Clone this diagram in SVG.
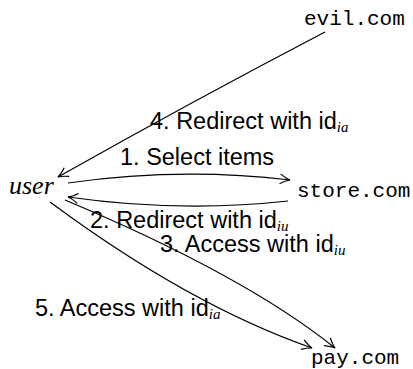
<svg xmlns="http://www.w3.org/2000/svg" width="413" height="369" viewBox="0 0 413 369">
  <style>
    .node { font-family: "Liberation Mono", "DejaVu Sans Mono", monospace; font-size: 21px; fill: #000; }
    .user { font-family: "Liberation Serif", "DejaVu Serif", serif; font-style: italic; font-size: 26px; fill: #000; }
    .lbl { font-family: "Liberation Sans", "DejaVu Sans", sans-serif; font-size: 23.5px; fill: #000; }
    .sub { font-family: "Liberation Serif", "DejaVu Serif", serif; font-style: italic; font-size: 15px; }
    .edge { fill: none; stroke: #000; stroke-width: 1.2; marker-end: url(#to); }
  </style>
  <defs>
    <marker id="to" markerUnits="userSpaceOnUse" viewBox="-12 -7 14 14" refX="0" refY="0" markerWidth="14" markerHeight="14" orient="auto">
      <path d="M-10,-5 Q-4,-1 0,0 Q-4,1 -10,5" fill="none" stroke="#000" stroke-width="1.2"/>
    </marker>
  </defs>

  <!-- nodes -->
  <g id="user"><text class="user" x="9" y="194">user</text></g>
  <g id="store"><text class="node" x="297" y="197">store.com</text></g>
  <g id="evil"><text class="node" x="304" y="25">evil.com</text></g>
  <g id="pay"><text class="node" x="311" y="364">pay.com</text></g>

  <!-- connectors -->
  <g id="edges">
    <path class="edge" d="M68,183 Q180,167 290,180"/>
    <path class="edge" d="M288,201 Q180,213 68,197"/>
    <path class="edge" d="M325,32 Q191,102 58,177"/>
    <path class="edge" d="M65,200 Q244,275 335,348"/>
    <path class="edge" d="M50,202 Q189,305 312,348"/>
  </g>

  <!-- edge labels -->
  <g id="labels">
    <text class="lbl" x="120" y="165">1. Select items</text>
    <text class="lbl" x="150" y="129">4. Redirect with id<tspan class="sub" dy="3">ia</tspan></text>
    <text class="lbl" x="90" y="228">2. Redirect with id<tspan class="sub" dy="3">iu</tspan></text>
    <text class="lbl" x="160" y="252">3. Access with id<tspan class="sub" dy="3">iu</tspan></text>
    <text class="lbl" x="35" y="316">5. Access with id<tspan class="sub" dy="3">ia</tspan></text>
  </g>
</svg>
